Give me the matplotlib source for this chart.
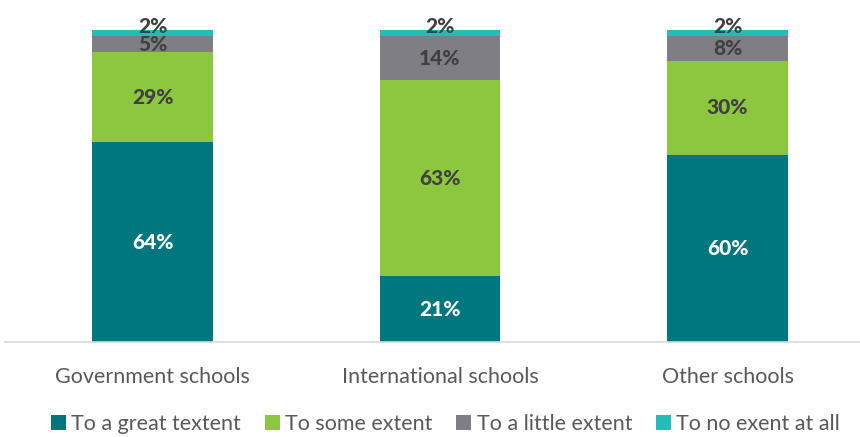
import matplotlib
matplotlib.use("Agg")
import matplotlib.pyplot as plt
import numpy as np

categories = ["Government schools", "International schools", "Other schools"]
series = ["To a great textent", "To some extent", "To a little extent", "To no exent at all"]
great = [64, 21, 60]
some = [29, 63, 30]
little = [5, 14, 8]
none_ = [2, 2, 2]

colors = ["#00777F", "#8DC63F", "#7F7E84", "#22BDB9"]

plt.rcParams["font.family"] = ["Lato", "DejaVu Sans"]

fig = plt.figure(figsize=(8.6, 4.37), dpi=100)
ax = fig.add_axes([5 / 860, 1 - 342 / 437, 855 / 860, 312 / 437])

x = np.arange(len(categories))
w = 0.42
bottom = np.zeros(len(categories))
for name, vals, col in zip(series, [great, some, little, none_], colors):
    vals = np.array(vals, dtype=float)
    ax.bar(x, vals, w, bottom=bottom, color=col, label=name)
    for xi, b, v in zip(x, bottom, vals):
        tc = "white" if col == "#00777F" else "#404040"
        if v <= 2:
            ax.text(xi, b + v - 1.8, f"{v:.0f}%", ha="center", va="bottom",
                    fontsize=15, fontweight="black", color=tc, clip_on=False)
        else:
            ax.text(xi, b + v / 2, f"{v:.0f}%", ha="center", va="center",
                    fontsize=15, fontweight="black", color=tc)
    bottom += vals

ax.set_xlim((5 - 152.5) / 287.5, (860 - 152.5) / 287.5)
ax.set_ylim(0, 100)
ax.set_xticks(x)
ax.set_xticklabels(categories, fontsize=15.5, color="#595959")
ax.tick_params(axis="x", length=0, pad=18)
ax.set_yticks([])
for s in ["top", "right", "left"]:
    ax.spines[s].set_visible(False)
ax.spines["bottom"].set_color("#D9D9D9")
ax.spines["bottom"].set_linewidth(1.2)

fig.legend(loc="lower center", bbox_to_anchor=(0.518, -0.038), ncol=4, frameon=False,
           fontsize=15.5, handlelength=0.7, handleheight=0.7, handletextpad=0.25,
           columnspacing=1.1, labelcolor="#595959")

fig.savefig("out.png", dpi=100)
